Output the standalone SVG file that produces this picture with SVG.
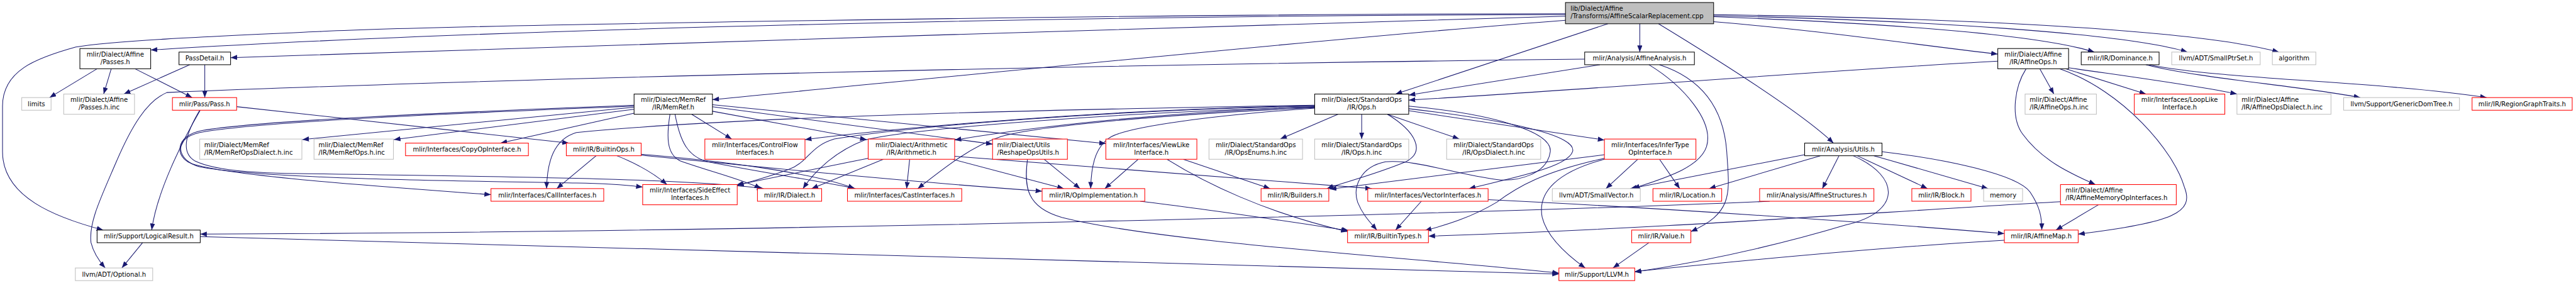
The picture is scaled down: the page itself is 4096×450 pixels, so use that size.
<svg xmlns="http://www.w3.org/2000/svg" width="4096" height="450" viewBox="0 0 4096 450">
<style>
text{font-family:"DejaVu Sans","Liberation Sans",sans-serif;font-size:12.6px;fill:#000}
.c{text-anchor:middle}
rect{fill:#fff;stroke-width:1.3}
.k{stroke:#000}
.g{stroke:#bfbfbf}
.r{stroke:#f00}
.m{fill:#bfbfbf;stroke:#000}
#edges path{fill:none;stroke:#191970;stroke-width:1.3;marker-end:url(#ah)}
</style>
<defs><marker id="ah" markerUnits="userSpaceOnUse" viewBox="0 0 13 10" markerWidth="13" markerHeight="10" refX="13" refY="5" orient="auto"><path d="M0,0L13,5L0,10z" fill="#191970"/></marker></defs>
<rect width="4096" height="450" style="fill:#fff;stroke:none"/>
<g transform="scale(0.804)">
<g id="edges">
<path d="M3096,29 C2200,30 1000,55 298,99"/>
<path d="M3096,27 C2200,28 900,50 640,62 C420,72 230,80 150,93 C70,115 5,140 5,210 L5,300 C5,390 110,430 204,455"/>
<path d="M3096,32 C2300,50 1200,95 456,114"/>
<path d="M3096,40 C2700,70 2000,140 1409,197"/>
<path d="M3180,47 L2760,186"/>
<path d="M3243,47 L3243,103"/>
<path d="M3280,47 C3400,120 3560,220 3626,283"/>
<path d="M3389,43 C3600,60 3800,90 3951,107"/>
<path d="M3389,33 C3700,45 4020,65 4142,103"/>
<path d="M3389,31 C3800,40 4200,65 4326,103"/>
<path d="M3389,29 C3900,36 4350,60 4507,103"/>
<path d="M192,136 L98,193"/>
<path d="M220,136 L205,186"/>
<path d="M267,136 L380,193"/>
<path d="M375,128 L245,186"/>
<path d="M405,128 L405,193"/>
<path d="M396,218 C360,280 310,380 300,455"/>
<path d="M468,211 L1125,283"/>
<path d="M395,218 C370,260 355,300 385,318 C430,340 520,343 640,344 C1000,350 1350,352 1510,373"/>
<path d="M1254,212 L598,276"/>
<path d="M1254,216 L779,276"/>
<path d="M1254,224 L990,283"/>
<path d="M1254,208 C900,222 520,238 400,258 C345,268 345,312 380,324 C460,350 800,372 971,385"/>
<path d="M1254,210 C900,224 520,240 395,262 C340,274 350,318 395,330 C520,355 950,358 1140,362 C1200,363 1240,366 1271,370"/>
<path d="M1368,226 L1447,275"/>
<path d="M1409,220 L1714,276"/>
<path d="M1325,226 C1318,270 1318,305 1345,318 C1400,338 1470,355 1505,373"/>
<path d="M1335,226 C1345,280 1360,310 1400,320 C1500,340 1620,358 1692,373"/>
<path d="M1409,211 L1963,285"/>
<path d="M1409,207 L2187,284"/>
<path d="M2600,208 C2000,218 1450,232 1140,262 C1095,275 1082,320 1081,373"/>
<path d="M2600,209 C2200,216 1800,250 1592,276"/>
<path d="M2600,211 C2300,222 2050,250 1888,277"/>
<path d="M2600,210 C2200,217 1800,250 1650,275 C1600,290 1600,320 1560,335 C1520,350 1490,358 1458,367"/>
<path d="M2600,212 C2200,222 1800,255 1710,277 C1650,300 1610,340 1588,373"/>
<path d="M2600,213 C2300,226 2050,250 1980,270 C1920,290 1870,330 1815,373"/>
<path d="M2600,214 C2400,228 2230,250 2195,272 C2165,292 2158,330 2157,373"/>
<path d="M2646,226 L2532,275"/>
<path d="M2693,226 L2693,275"/>
<path d="M2744,226 L2886,275"/>
<path d="M2786,219 L3173,277"/>
<path d="M2744,226 C2800,260 2820,300 2780,320 C2720,345 2660,360 2624,373"/>
<path d="M2786,210 C2950,225 3070,260 3066,300 C3060,345 3000,360 2960,355 C2880,345 2800,315 2740,320 C2690,330 2675,370 2685,400 C2695,425 2710,440 2723,455"/>
<path d="M2786,215 C3000,240 3120,270 3110,300 C3100,330 3000,350 2905,373"/>
<path d="M1717,313 L1456,366"/>
<path d="M1747,315 L1605,373"/>
<path d="M1799,315 L1793,373"/>
<path d="M1888,309 L2713,373"/>
<path d="M1884,315 L2104,373"/>
<path d="M1179,308 L1101,373"/>
<path d="M1220,308 C1250,320 1290,340 1319,365"/>
<path d="M1268,305 C1450,320 1620,345 1690,373"/>
<path d="M1268,307 C1500,330 1800,360 2061,378"/>
<path d="M2065,315 L2136,373"/>
<path d="M2032,315 C2025,370 2030,410 2100,430 C2300,480 2800,510 3083,540"/>
<path d="M2251,315 L2185,373"/>
<path d="M2340,315 L2512,373"/>
<path d="M2308,315 C2380,360 2500,420 2665,458"/>
<path d="M2255,398 C2400,415 2560,440 2667,456"/>
<path d="M282,480 L241,530"/>
<path d="M396,468 C1000,480 2500,530 3083,542"/>
<path d="M3500,398 C3000,420 1500,460 396,463"/>
<path d="M2811,398 L2760,455"/>
<path d="M2943,395 C3300,412 3700,440 3964,462"/>
<path d="M4075,399 C3700,420 3300,452 2825,467"/>
<path d="M4150,405 L4066,455"/>
<path d="M3964,475 C3700,490 3400,520 3233,537"/>
<path d="M3665,308 C3760,350 3760,420 3650,445 C3500,490 3350,520 3233,538"/>
<path d="M3637,308 L3604,373"/>
<path d="M3600,308 L3380,373"/>
<path d="M3569,306 L3224,373"/>
<path d="M3673,308 L3812,373"/>
<path d="M3706,308 L3932,373"/>
<path d="M3722,300 C3850,315 3990,345 4015,380 C4035,410 4038,430 4038,455"/>
<path d="M3134,117 C2200,127 1000,155 330,183 C290,200 260,250 230,320 C200,390 175,440 180,480 C185,500 195,515 208,530"/>
<path d="M3164,128 L2786,188"/>
<path d="M3261,128 C3330,170 3390,240 3375,290 C3360,335 3280,355 3230,373"/>
<path d="M3282,128 C3380,160 3410,230 3415,300 C3420,380 3430,420 3344,458"/>
<path d="M3261,480 L3190,530"/>
<path d="M3951,121 C3600,140 3100,180 2786,198"/>
<path d="M4034,136 L4062,186"/>
<path d="M4085,136 L4244,186"/>
<path d="M4091,134 C4200,150 4350,170 4424,186"/>
<path d="M4007,136 C3985,170 3975,230 4000,265 C4040,320 4100,345 4144,365"/>
<path d="M4073,136 C4200,180 4300,300 4320,370 C4340,420 4300,440 4110,463"/>
<path d="M4244,128 C4350,155 4550,170 4668,193"/>
<path d="M4250,128 C4400,158 4700,160 4918,193"/>
<path d="M3239,315 L3176,373"/>
<path d="M3282,315 L3322,373"/>
<path d="M3173,306 L2630,374"/>
<path d="M3173,313 C3050,340 3000,370 2960,400 C2910,430 2860,445 2818,456"/>
<path d="M3173,315 C3080,340 3040,380 3050,430 C3060,470 3100,505 3135,530"/>
</g>
<g id="main"><rect class="m" x="3096" y="5" width="293" height="42"/><text x="3106" y="21.5">lib/Dialect/Affine</text><text x="3106" y="36.5">/Transforms/AffineScalarReplacement.cpp</text></g>
<g id="affPasses"><rect class="k" x="158" y="96" width="140" height="40"/><text class="c" x="228" y="112">mlir/Dialect/Affine</text><text class="c" x="228" y="127">/Passes.h</text></g>
<g id="passDetail"><rect class="k" x="354" y="103" width="102" height="25"/><text class="c" x="405" y="120">PassDetail.h</text></g>
<g id="limits"><rect class="g" x="43" y="193" width="58" height="25"/><text class="c" x="72" y="210">limits</text></g>
<g id="passesInc"><rect class="g" x="126" y="186" width="140" height="40"/><text class="c" x="196" y="202">mlir/Dialect/Affine</text><text class="c" x="196" y="217">/Passes.h.inc</text></g>
<g id="pass"><rect class="r" x="341" y="193" width="127" height="25"/><text class="c" x="404.5" y="210">mlir/Pass/Pass.h</text></g>
<g id="memrefDialectInc"><rect class="g" x="395" y="275" width="202" height="40"/><text x="404" y="291">mlir/Dialect/MemRef</text><text x="404" y="306">/IR/MemRefOpsDialect.h.inc</text></g>
<g id="memrefOpsInc"><rect class="g" x="621" y="275" width="157" height="40"/><text x="630" y="291">mlir/Dialect/MemRef</text><text x="630" y="306">/IR/MemRefOps.h.inc</text></g>
<g id="logicalResult"><rect class="k" x="192" y="455" width="204" height="25"/><text class="c" x="294" y="472">mlir/Support/LogicalResult.h</text></g>
<g id="optional"><rect class="g" x="149" y="530" width="153" height="25"/><text class="c" x="225.5" y="547">llvm/ADT/Optional.h</text></g>
<g id="copyOp"><rect class="r" x="802" y="283" width="243" height="25"/><text class="c" x="923.5" y="300">mlir/Interfaces/CopyOpInterface.h</text></g>
<g id="builtinOps"><rect class="r" x="1120" y="283" width="148" height="25"/><text class="c" x="1194" y="300">mlir/IR/BuiltinOps.h</text></g>
<g id="callIf"><rect class="r" x="971" y="373" width="223" height="25"/><text class="c" x="1082.5" y="390">mlir/Interfaces/CallInterfaces.h</text></g>
<g id="memref"><rect class="k" x="1254" y="186" width="155" height="40"/><text class="c" x="1331.5" y="202">mlir/Dialect/MemRef</text><text class="c" x="1331.5" y="217">/IR/MemRef.h</text></g>
<g id="sideEffect"><rect class="r" x="1271" y="365" width="187" height="40"/><text class="c" x="1364.5" y="381">mlir/Interfaces/SideEffect</text><text class="c" x="1364.5" y="396">Interfaces.h</text></g>
<g id="controlFlow"><rect class="r" x="1394" y="275" width="198" height="40"/><text class="c" x="1493" y="291">mlir/Interfaces/ControlFlow</text><text class="c" x="1493" y="306">Interfaces.h</text></g>
<g id="arith"><rect class="r" x="1717" y="275" width="171" height="40"/><text class="c" x="1802.5" y="291">mlir/Dialect/Arithmetic</text><text class="c" x="1802.5" y="306">/IR/Arithmetic.h</text></g>
<g id="dialect"><rect class="r" x="1498" y="373" width="127" height="25"/><text class="c" x="1561.5" y="390">mlir/IR/Dialect.h</text></g>
<g id="castIf"><rect class="r" x="1676" y="373" width="226" height="25"/><text class="c" x="1789" y="390">mlir/Interfaces/CastInterfaces.h</text></g>
<g id="reshape"><rect class="r" x="1963" y="275" width="148" height="40"/><text x="1972" y="291">mlir/Dialect/Utils</text><text x="1972" y="306">/ReshapeOpsUtils.h</text></g>
<g id="viewLike"><rect class="r" x="2187" y="275" width="180" height="40"/><text class="c" x="2277" y="291">mlir/Interfaces/ViewLike</text><text class="c" x="2277" y="306">Interface.h</text></g>
<g id="opsEnums"><rect class="g" x="2391" y="275" width="185" height="40"/><text class="c" x="2483.5" y="291">mlir/Dialect/StandardOps</text><text class="c" x="2483.5" y="306">/IR/OpsEnums.h.inc</text></g>
<g id="opImpl"><rect class="r" x="2061" y="373" width="203" height="25"/><text class="c" x="2162.5" y="390">mlir/IR/OpImplementation.h</text></g>
<g id="builders"><rect class="r" x="2494" y="373" width="134" height="25"/><text class="c" x="2561" y="390">mlir/IR/Builders.h</text></g>
<g id="affineAnalysis"><rect class="k" x="3134" y="103" width="217" height="25"/><text class="c" x="3242.5" y="120">mlir/Analysis/AffineAnalysis.h</text></g>
<g id="stdOps"><rect class="k" x="2600" y="186" width="186" height="40"/><text class="c" x="2693" y="202">mlir/Dialect/StandardOps</text><text class="c" x="2693" y="217">/IR/Ops.h</text></g>
<g id="opsInc"><rect class="g" x="2600" y="275" width="186" height="40"/><text class="c" x="2693" y="291">mlir/Dialect/StandardOps</text><text class="c" x="2693" y="306">/IR/Ops.h.inc</text></g>
<g id="opsDialectInc"><rect class="g" x="2861" y="275" width="186" height="40"/><text class="c" x="2954" y="291">mlir/Dialect/StandardOps</text><text class="c" x="2954" y="306">/IR/OpsDialect.h.inc</text></g>
<g id="inferType"><rect class="r" x="3173" y="275" width="181" height="40"/><text class="c" x="3263.5" y="291">mlir/Interfaces/InferType</text><text class="c" x="3263.5" y="306">OpInterface.h</text></g>
<g id="vectorIf"><rect class="r" x="2705" y="373" width="238" height="25"/><text class="c" x="2824" y="390">mlir/Interfaces/VectorInterfaces.h</text></g>
<g id="smallVector"><rect class="g" x="3070" y="373" width="174" height="25"/><text class="c" x="3157" y="390">llvm/ADT/SmallVector.h</text></g>
<g id="builtinTypes"><rect class="r" x="2665" y="455" width="160" height="25"/><text class="c" x="2745" y="472">mlir/IR/BuiltinTypes.h</text></g>
<g id="llvm"><rect class="r" x="3083" y="530" width="150" height="25"/><text class="c" x="3158" y="547">mlir/Support/LLVM.h</text></g>
<g id="location"><rect class="r" x="3269" y="373" width="136" height="25"/><text class="c" x="3337" y="390">mlir/IR/Location.h</text></g>
<g id="affStructures"><rect class="r" x="3480" y="373" width="226" height="25"/><text class="c" x="3593" y="390">mlir/Analysis/AffineStructures.h</text></g>
<g id="block"><rect class="r" x="3781" y="373" width="117" height="25"/><text class="c" x="3839.5" y="390">mlir/IR/Block.h</text></g>
<g id="utils"><rect class="k" x="3569" y="283" width="153" height="25"/><text class="c" x="3645.5" y="300">mlir/Analysis/Utils.h</text></g>
<g id="value"><rect class="r" x="3227" y="455" width="117" height="25"/><text class="c" x="3285.5" y="472">mlir/IR/Value.h</text></g>
<g id="affineOps"><rect class="k" x="3951" y="96" width="140" height="40"/><text class="c" x="4021" y="112">mlir/Dialect/Affine</text><text class="c" x="4021" y="127">/IR/AffineOps.h</text></g>
<g id="dominance"><rect class="k" x="4116" y="103" width="154" height="25"/><text class="c" x="4193" y="120">mlir/IR/Dominance.h</text></g>
<g id="smallPtrSet"><rect class="g" x="4295" y="103" width="175" height="25"/><text class="c" x="4382.5" y="120">llvm/ADT/SmallPtrSet.h</text></g>
<g id="affineOpsInc"><rect class="g" x="4005" y="186" width="141" height="40"/><text x="4014" y="202">mlir/Dialect/Affine</text><text x="4014" y="217">/IR/AffineOps.h.inc</text></g>
<g id="loopLike"><rect class="r" x="4221" y="186" width="179" height="40"/><text class="c" x="4310.5" y="202">mlir/Interfaces/LoopLike</text><text class="c" x="4310.5" y="217">Interface.h</text></g>
<g id="affineOpsDialectInc"><rect class="g" x="4424" y="186" width="186" height="40"/><text x="4433" y="202">mlir/Dialect/Affine</text><text x="4433" y="217">/IR/AffineOpsDialect.h.inc</text></g>
<g id="memory"><rect class="g" x="3923" y="373" width="77" height="25"/><text class="c" x="3961.5" y="390">memory</text></g>
<g id="affMemOpIf"><rect class="r" x="4075" y="365" width="229" height="40"/><text x="4085" y="381">mlir/Dialect/Affine</text><text x="4085" y="396">/IR/AffineMemoryOpInterfaces.h</text></g>
<g id="affineMap"><rect class="r" x="3964" y="455" width="146" height="25"/><text class="c" x="4037" y="472">mlir/IR/AffineMap.h</text></g>
<g id="algorithm"><rect class="g" x="4494" y="103" width="86" height="25"/><text class="c" x="4537" y="120">algorithm</text></g>
<g id="genericDomTree"><rect class="g" x="4635" y="193" width="229" height="25"/><text class="c" x="4749.5" y="210">llvm/Support/GenericDomTree.h</text></g>
<g id="regionGraph"><rect class="r" x="4889" y="193" width="198" height="25"/><text class="c" x="4988" y="210">mlir/IR/RegionGraphTraits.h</text></g>
</g>
</svg>
